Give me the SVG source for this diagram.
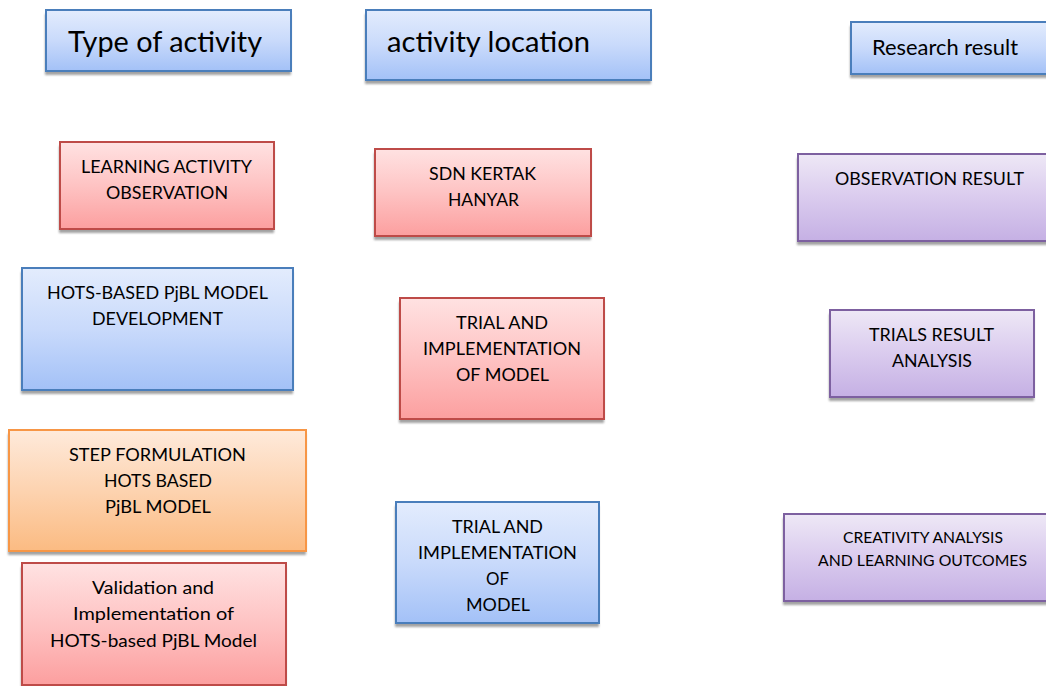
<svg xmlns="http://www.w3.org/2000/svg" width="1046" height="686" viewBox="0 0 1046 686">
<style>
.t{font-family:Lato,"Open Sans","Liberation Sans",sans-serif;fill:#000;text-anchor:middle}
.s{font-size:17px}
.xs{font-size:16px}
.big{font-size:28px}
.mid{font-size:21px}
.b{fill:url(#gb);stroke:#4a7ebb;stroke-width:2}
.r{fill:url(#gr);stroke:#be4b48;stroke-width:2}
.o{fill:url(#go);stroke:#f79646;stroke-width:2}
.p{fill:url(#gp);stroke:#7d60a0;stroke-width:2}
.sh{fill:#8c8c8c;opacity:.8;filter:url(#bl)}
</style>
<defs>
<linearGradient id="gb" x1="0" y1="0" x2="0" y2="1"><stop offset="0" stop-color="#e3ecfd"/><stop offset="0.5" stop-color="#c9dafb"/><stop offset="1" stop-color="#a3c1f7"/></linearGradient>
<linearGradient id="gr" x1="0" y1="0" x2="0" y2="1"><stop offset="0" stop-color="#ffe2e2"/><stop offset="0.5" stop-color="#fec3c3"/><stop offset="1" stop-color="#fc9f9f"/></linearGradient>
<linearGradient id="go" x1="0" y1="0" x2="0" y2="1"><stop offset="0" stop-color="#feeadb"/><stop offset="0.5" stop-color="#fdd3b0"/><stop offset="1" stop-color="#fbbb82"/></linearGradient>
<linearGradient id="gp" x1="0" y1="0" x2="0" y2="1"><stop offset="0" stop-color="#eee8f6"/><stop offset="0.5" stop-color="#dacbee"/><stop offset="1" stop-color="#c5b0e4"/></linearGradient>
<filter id="bl" x="-5%" y="-10%" width="110%" height="130%"><feGaussianBlur stdDeviation="0.8"/></filter>
</defs>
<rect width="1046" height="686" fill="#fff"/>
<g id="connectors"></g>

<g id="type-of-activity">
<rect class="sh" x="45" y="14" width="246" height="61"/>
<rect class="b" x="46" y="10" width="245" height="61"/>
<text class="t big" x="165" y="52" textLength="194" lengthAdjust="spacingAndGlyphs">Type of activity</text>
</g>
<g id="activity-location">
<rect class="sh" x="365" y="14" width="286" height="70"/>
<rect class="b" x="366" y="10" width="285" height="70"/>
<text class="t big" x="488.5" y="52" textLength="203" lengthAdjust="spacingAndGlyphs">activity location</text>
</g>
<g id="research-result">
<rect class="sh" x="850" y="26" width="201" height="52"/>
<rect class="b" x="851" y="22" width="200" height="52"/>
<text class="t mid" x="945" y="55" textLength="146" lengthAdjust="spacingAndGlyphs">Research result</text>
</g>

<g id="learning-activity-observation">
<rect class="sh" x="59" y="146" width="215" height="87"/>
<rect class="r" x="60" y="142" width="214" height="87"/>
<text class="t s" x="166.5" y="173" textLength="171" lengthAdjust="spacingAndGlyphs">LEARNING ACTIVITY</text>
<text class="t s" x="167" y="199" textLength="122" lengthAdjust="spacingAndGlyphs">OBSERVATION</text>
</g>
<g id="sdn-kertak-hanyar">
<rect class="sh" x="374" y="153" width="217" height="87"/>
<rect class="r" x="375" y="149" width="216" height="87"/>
<text class="t s" x="482.5" y="180" textLength="107" lengthAdjust="spacingAndGlyphs">SDN KERTAK</text>
<text class="t s" x="483.5" y="206" textLength="71" lengthAdjust="spacingAndGlyphs">HANYAR</text>
</g>
<g id="observation-result">
<rect class="sh" x="797" y="158" width="255" height="87"/>
<rect class="p" x="798" y="154" width="254" height="87"/>
<text class="t s" x="929.5" y="185" textLength="189" lengthAdjust="spacingAndGlyphs">OBSERVATION RESULT</text>
</g>

<g id="hots-pjbl-development">
<rect class="sh" x="21" y="272" width="272" height="122"/>
<rect class="b" x="22" y="268" width="271" height="122"/>
<text class="t s" x="157.5" y="299" textLength="221" lengthAdjust="spacingAndGlyphs">HOTS-BASED PjBL MODEL</text>
<text class="t s" x="157.5" y="325" textLength="131" lengthAdjust="spacingAndGlyphs">DEVELOPMENT</text>
</g>
<g id="trial-implementation-red">
<rect class="sh" x="399" y="302" width="205" height="121"/>
<rect class="r" x="400" y="298" width="204" height="121"/>
<text class="t s" x="502" y="329" textLength="92" lengthAdjust="spacingAndGlyphs">TRIAL AND</text>
<text class="t s" x="502" y="355" textLength="158" lengthAdjust="spacingAndGlyphs">IMPLEMENTATION</text>
<text class="t s" x="502.5" y="381" textLength="93" lengthAdjust="spacingAndGlyphs">OF MODEL</text>
</g>
<g id="trials-result-analysis">
<rect class="sh" x="829" y="314" width="205" height="87"/>
<rect class="p" x="830" y="310" width="204" height="87"/>
<text class="t s" x="931.5" y="341" textLength="125" lengthAdjust="spacingAndGlyphs">TRIALS RESULT</text>
<text class="t s" x="932" y="367" textLength="80" lengthAdjust="spacingAndGlyphs">ANALYSIS</text>
</g>

<g id="step-formulation">
<rect class="sh" x="8" y="434" width="298" height="121"/>
<rect class="o" x="9" y="430" width="297" height="121"/>
<text class="t s" x="157.5" y="461" textLength="177" lengthAdjust="spacingAndGlyphs">STEP FORMULATION</text>
<text class="t s" x="158" y="487" textLength="108" lengthAdjust="spacingAndGlyphs">HOTS BASED</text>
<text class="t s" x="158" y="513" textLength="106" lengthAdjust="spacingAndGlyphs">PjBL MODEL</text>
</g>
<g id="trial-implementation-blue">
<rect class="sh" x="395" y="506" width="204" height="121"/>
<rect class="b" x="396" y="502" width="203" height="121"/>
<text class="t s" x="497.5" y="533" textLength="91" lengthAdjust="spacingAndGlyphs">TRIAL AND</text>
<text class="t s" x="497.5" y="559" textLength="159" lengthAdjust="spacingAndGlyphs">IMPLEMENTATION</text>
<text class="t s" x="497.5" y="585" textLength="23" lengthAdjust="spacingAndGlyphs">OF</text>
<text class="t s" x="498" y="611" textLength="64" lengthAdjust="spacingAndGlyphs">MODEL</text>
</g>
<g id="creativity-analysis">
<rect class="sh" x="783" y="518" width="269" height="87"/>
<rect class="p" x="784" y="514" width="268" height="87"/>
<text class="t xs" x="923" y="543" textLength="160" lengthAdjust="spacingAndGlyphs">CREATIVITY ANALYSIS</text>
<text class="t xs" x="922.5" y="566" textLength="209" lengthAdjust="spacingAndGlyphs">AND LEARNING OUTCOMES</text>
</g>
<g id="validation-implementation">
<rect class="sh" x="21" y="567" width="265" height="122"/>
<rect class="r" x="22" y="563" width="264" height="122"/>
<text class="t s" x="153" y="594" textLength="122" lengthAdjust="spacingAndGlyphs">Validation and</text>
<text class="t s" x="153.5" y="620" textLength="161" lengthAdjust="spacingAndGlyphs">Implementation of</text>
<text class="t s" x="153.5" y="647" textLength="207" lengthAdjust="spacingAndGlyphs">HOTS-based PjBL Model</text>
</g>
</svg>
